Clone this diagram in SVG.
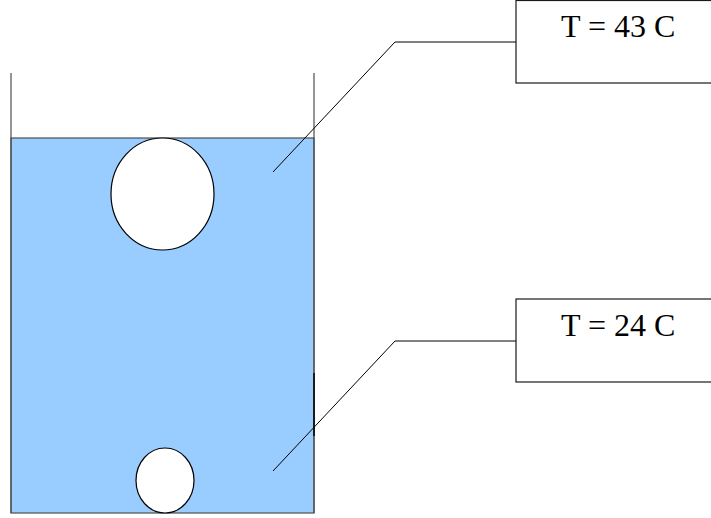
<svg xmlns="http://www.w3.org/2000/svg" width="711" height="518" viewBox="0 0 711 518">
  <style>
    .wall { stroke: #4d4d4d; stroke-width: 1.2; fill: none; }
    .water { fill: #99ccff; stroke: #4d4d4d; stroke-width: 1.2; }
    .bubble { fill: #ffffff; stroke: #000000; stroke-width: 1.2; }
    .label-box { fill: #ffffff; stroke: #1a1a1a; stroke-width: 1.2; }
    .label { font-family: "Liberation Serif", "Times New Roman", serif; font-size: 32px; fill: #000000; }
    .leader { stroke: #000000; stroke-width: 1; fill: none; }
  </style>

  <!-- beaker filled with water -->
  <g id="beaker">
    <rect class="water" x="11" y="138" width="303" height="375"/>
    <line class="wall" x1="11" y1="73" x2="11" y2="513"/>
    <line class="wall" x1="314" y1="73" x2="314" y2="513"/>
    <line stroke="#1a1a1a" stroke-width="2" x1="314" y1="373" x2="314" y2="436"/>
  </g>

  <!-- bubbles -->
  <g id="bubble-top">
    <ellipse class="bubble" cx="162.5" cy="194" rx="51.5" ry="56"/>
  </g>
  <g id="bubble-bottom">
    <ellipse class="bubble" cx="165" cy="480.5" rx="29" ry="32.5"/>
  </g>

  <!-- temperature labels -->
  <g id="label-top">
    <rect class="label-box" x="516" y="0.5" width="210" height="82.5"/>
    <text class="label" x="561" y="37">T = 43 C</text>
  </g>
  <g id="label-bottom">
    <rect class="label-box" x="516" y="299" width="210" height="83"/>
    <text class="label" x="561" y="336">T = 24 C</text>
  </g>

  <!-- leader lines -->
  <g id="connectors">
    <polyline class="leader" points="273,172 395,42 516,42"/>
    <polyline class="leader" points="273,471 395,341 516,341"/>
  </g>
</svg>
